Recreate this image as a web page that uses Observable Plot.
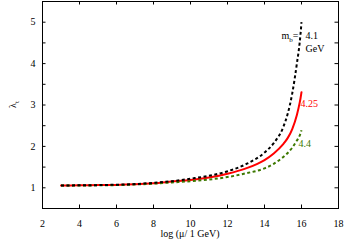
<!DOCTYPE html>
<html>
<head>
<meta charset="utf-8">
<script src="https://cdn.jsdelivr.net/npm/d3@7"></script>
<script src="https://cdn.jsdelivr.net/npm/@observablehq/plot@0.6"></script>
<style>
  html, body { margin: 0; padding: 0; background: #fff; }
  svg { display: block; }
  svg text { font-family: "Liberation Serif", "Times New Roman", serif !important; }
</style>
</head>
<body>
<div id="chart"></div>
<script>
const logMu = [3,4,5,6,7,8,9,10,11,12,13,14,14.5,15,15.25,15.5,15.75,15.9,15.95,16];
const lam41  = [1.055,1.06,1.065,1.075,1.09,1.12,1.16,1.22,1.29,1.40,1.57,1.85,2.08,2.45,2.78,3.28,4.00,4.50,4.73,5.0];
const lam425 = [1.055,1.06,1.065,1.07,1.085,1.11,1.15,1.19,1.25,1.34,1.47,1.67,1.83,2.05,2.20,2.42,2.76,3.05,3.17,3.31];
const lam44  = [1.055,1.055,1.06,1.065,1.08,1.10,1.13,1.16,1.20,1.26,1.35,1.47,1.58,1.74,1.84,1.97,2.14,2.26,2.32,2.39];
const xTicks = [2,4,6,8,10,12,14,16,18];
const yTicks = [1,2,3,4,5];
const yMinor = [1.5,2.5,3.5,4.5];
const seriesNames = ["4.1","4.25","4.4"];
const colors = {"4.1":"#000000","4.25":"#ff0000","4.4":"#3c7800"};

const rows = [];
[lam41, lam425, lam44].forEach((arr, i) => {
  arr.forEach((v, j) => rows.push({x: logMu[j], y: v, s: seriesNames[i]}));
});
const ends = seriesNames.map((s, i) => ({s, x: logMu[logMu.length-1], y: [lam41, lam425, lam44][i][logMu.length-1]}));

const W = 346, H = 241, mt = 1, mb = 33, ml = 42, mr = 8;
const ph = H - mt - mb, pw = W - ml - mr;
const tk = 3.5;
const font = "'Liberation Serif', 'Times New Roman', serif";

const plot = Plot.plot({
  width: W, height: H,
  marginTop: mt, marginBottom: mb, marginLeft: ml, marginRight: mr,
  style: {fontFamily: font, fontSize: "10px", color: "#000", background: "#fff"},
  x: {domain: [2, 18], label: null},
  y: {domain: [0.5, 5.5], label: null},
  marks: [
    Plot.axisX(xTicks, {tickSize: 0, tickPadding: 11, fontSize: 10, label: null}),
    Plot.axisY(yTicks, {tickSize: 0, tickPadding: 7, fontSize: 10, label: null}),
    Plot.tickX(xTicks, {x: d => d, insetTop: ph - tk, stroke: "#000", strokeWidth: 1}),
    Plot.tickX(xTicks, {x: d => d, insetBottom: ph - tk, stroke: "#000", strokeWidth: 1}),
    Plot.tickY(yTicks.concat(yMinor), {y: d => d, insetRight: pw - tk, stroke: "#000", strokeWidth: 1}),
    Plot.tickY(yTicks.concat(yMinor), {y: d => d, insetLeft: pw - tk, stroke: "#000", strokeWidth: 1}),
    Plot.line(rows.filter(r => r.s === "4.25"), {x: "x", y: "y", stroke: colors["4.25"], strokeWidth: 2, curve: "monotone-x"}),
    Plot.line(rows.filter(r => r.s === "4.4"), {x: "x", y: "y", stroke: colors["4.4"], strokeWidth: 2, strokeDasharray: "3,2.5", strokeLinecap: "butt", curve: "monotone-x"}),
    Plot.line(rows.filter(r => r.s === "4.1"), {x: "x", y: "y", stroke: colors["4.1"], strokeWidth: 2, strokeDasharray: "3,2.5", strokeLinecap: "butt", curve: "monotone-x"}),
    Plot.text(ends.filter(d => d.s === "4.1"), {x: "x", y: "y", text: d => d.s, dx: 4, dy: 14, textAnchor: "start", fill: colors["4.1"], fontSize: 10}),
    Plot.text(ends.filter(d => d.s === "4.1"), {x: "x", y: "y", text: d => "GeV", dx: 4, dy: 27, textAnchor: "start", fill: "#000", fontSize: 10}),
    Plot.text(ends.filter(d => d.s === "4.1"), {x: "x", y: "y", text: d => "mb=", dx: -3, dy: 14, textAnchor: "end", fill: "#000", fontSize: 10, className: "mblabel"}),
    Plot.text(ends.filter(d => d.s === "4.25"), {x: "x", y: "y", text: d => d.s, dx: -1, dy: 12, textAnchor: "start", fill: colors["4.25"], fontSize: 10}),
    Plot.text(ends.filter(d => d.s === "4.4"), {x: "x", y: "y", text: d => d.s, dx: -3, dy: 14, textAnchor: "start", fill: colors["4.4"], fontSize: 10}),
    Plot.frame({stroke: "#000", strokeWidth: 1})
  ]
});

document.getElementById("chart").appendChild(plot);
const svg = d3.select(plot);

svg.selectAll(".mblabel text").each(function() {
  const t = d3.select(this);
  t.text(null);
  t.append("tspan").text("m");
  t.append("tspan").attr("font-size", 7).attr("dy", 2.5).text("b");
  t.append("tspan").attr("dy", -2.5).text("=");
});

const yl = svg.append("text")
  .attr("transform", `translate(16,${mt + ph/2}) rotate(-90)`)
  .attr("text-anchor", "middle")
  .attr("font-size", 10)
  .attr("fill", "#000");
yl.append("tspan").text("λ");
yl.append("tspan").attr("font-size", 7).attr("dy", 2.5).text("t");

svg.append("text")
  .attr("x", ml + pw/2)
  .attr("y", H - 4)
  .attr("text-anchor", "middle")
  .attr("font-size", 10)
  .attr("fill", "#000")
  .text("log (μ/ 1 GeV)");
</script>
</body>
</html>
